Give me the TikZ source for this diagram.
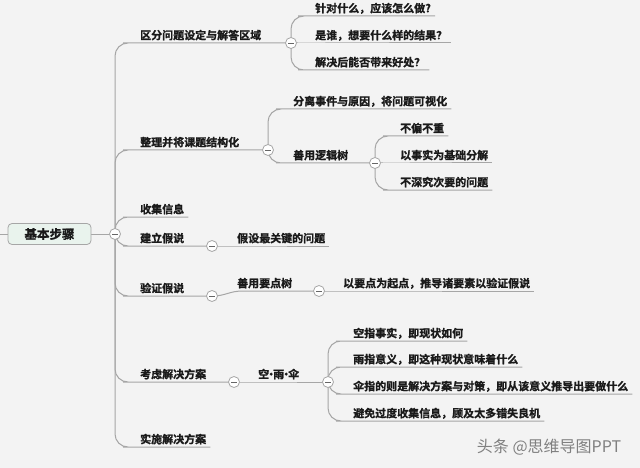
\documentclass[tikz,border=0pt]{standalone}
\usepackage{fontspec}
\newfontfamily\cjk{Noto Sans CJK SC}
\newfontfamily\cjkb{Noto Sans CJK SC Bold}[FakeBold=1.2]
\pgfdeclarelayer{bg}
\pgfdeclarelayer{lines}
\pgfsetlayers{bg,lines,main}
\definecolor{linec}{HTML}{A6A6A6}
\definecolor{txtc}{HTML}{1A1A1A}
\definecolor{bgc}{HTML}{F3F3F3}
\definecolor{rootfill}{HTML}{E9F3ED}
\tikzset{
  t/.style={font=\cjkb\fontsize{11}{13}\selectfont, text=txtc, anchor=south west,
    inner xsep=4pt, inner ysep=1.5pt, text height=9pt, text depth=2pt},
  col/.style={circle, draw=linec, fill=white, minimum size=11pt, inner sep=0pt, line width=0.8pt,
    path picture={\draw[black!60, line width=0.8pt]
      ([xshift=-2.6pt]path picture bounding box.center) -- ([xshift=2.6pt]path picture bounding box.center);}},
  ln/.style={draw=linec, line width=1pt, rounded corners=13pt},
  ul/.style={draw=linec, line width=1pt},
}
\begin{document}
\begin{tikzpicture}[x=1pt,y=-1pt]
\begin{pgfonlayer}{bg}
\fill[bgc] (0,0) rectangle (640,468);
\end{pgfonlayer}
\useasboundingbox (0,0) rectangle (640,468);

% root
\coordinate (lft) at (0,234);
\node[draw=linec, fill=rootfill, rounded corners=4pt, line width=0.8pt, minimum width=83pt, minimum height=21pt,
  font=\cjkb\fontsize{12.5}{14}\selectfont, text=txtc] (root) at (49.5,234) {基本步骤};
\node[col] (rc) at (115,234) {};

% level 1
\node[t] (b1) at (136,43) {区分问题设定与解答区域};
\node[col] (c1) at (291,43) {};
\node[t] (b2) at (136,150) {整理并将课题结构化};
\node[col] (c2) at (268,150) {};
\node[t] (b3) at (136,217) {收集信息};
\node[t] (b4) at (136,246) {建立假说};
\node[col] (c4) at (212,246) {};
\node[t] (b5) at (136,296) {验证假说};
\node[col] (c5) at (212,296) {};
\node[t] (b6) at (136,382) {考虑解决方案};
\node[col] (c7) at (234,382) {};
\node[t] (b7) at (136,447) {实施解决方案};

% branch 1 children
\node[t] (b1a) at (311,16) {针对什么，应该怎么做?};
\node[t] (b1b) at (311,43) {是谁，想要什么样的结果？};
\node[t] (b1c) at (311,70) {解决后能否带来好处？};

% branch 2 children
\node[t] (b2a) at (289,109) {分离事件与原因，将问题可视化};
\node[t] (b2b) at (289,163) {善用逻辑树};
\node[col] (c3) at (375,163) {};
\node[t] (b2b1) at (396,136) {不偏不重};
\node[t] (b2b2) at (396,163) {以事实为基础分解};
\node[t] (b2b3) at (396,190) {不深究次要的问题};

% branch 4 child
\node[t] (b4a) at (233,246) {假设最关键的问题};

% branch 5 children
\node[t] (b5a) at (233,291) {善用要点树};
\node[col] (c6) at (319,291) {};
\node[t] (b5b) at (339,291) {以要点为起点，推导诸要素以验证假说};

% branch 6 children
\node[t] (b6a) at (254,382) {空\kern-3.5pt·\kern-3.5pt雨\kern-3.5pt·\kern-3.5pt伞};
\node[col] (c8) at (328,382) {};
\node[t] (b6a1) at (349,341) {空指事实，即现状如何};
\node[t] (b6a2) at (349,367) {雨指意义，即这种现状意味着什么};
\node[t] (b6a3) at (349,394) {伞指的则是解决方案与对策，即从该意义推导出要做什么};
\node[t] (b6a4) at (349,421) {避免过度收集信息，顾及太多错失良机};

% watermark
\node[font=\cjk\fontsize{16}{18}\selectfont, text=black!50, anchor=center] (wm) at (549,447) {头条 @思维导图PPT};

\begin{pgfonlayer}{lines}
\draw[ul] (lft) -- (root.west);
\draw[ul] (root.east) -- (rc.center);
% trunk
\draw[ln] (rc.center) |- (b1.south west) -- (c1.center);
\draw[ln] (rc.center) |- (b2.south west) -- (c2.center);
\draw[ln] (rc.center) |- (b3.south west) -- (b3.south east);
\draw[ln] (rc.center) |- (b4.south west) -- (c4.center);
\draw[ln] (rc.center) |- (b5.south west) -- (c5.center);
\draw[ln] (rc.center) |- (b6.south west) -- (c7.center);
\draw[ln] (rc.center) |- (b7.south west) -- (b7.south east);
% branch 1
\draw[ln] (c1.center) |- (b1a.south west) -- (b1a.south east);
\draw[ln] (c1.center) -- (b1b.south west) -- (b1b.south east);
\draw[ln] (c1.center) |- (b1c.south west) -- (b1c.south east);
% branch 2
\draw[ln] (c2.center) |- (b2a.south west) -- (b2a.south east);
\draw[ln] (c2.center) |- (b2b.south west) -- (c3.center);
\draw[ln] (c3.center) |- (b2b1.south west) -- (b2b1.south east);
\draw[ln] (c3.center) -- (b2b2.south west) -- (b2b2.south east);
\draw[ln] (c3.center) |- (b2b3.south west) -- (b2b3.south east);
% branch 4
\draw[ln] (c4.center) -- (b4a.south west) -- (b4a.south east);
% branch 5
\draw[ul] (c5.center) .. controls +(14,0) and +(-14,0) .. ([xshift=10pt]b5a.south west) -- (c6.center);
\draw[ln] (c6.center) -- (b5b.south west) -- (b5b.south east);
% branch 6
\draw[ln] (c7.center) -- (b6a.south west) -- (c8.center);
\draw[ln] (c8.center) |- (b6a1.south west) -- (b6a1.south east);
\draw[ln] (c8.center) |- (b6a2.south west) -- (b6a2.south east);
\draw[ln] (c8.center) |- (b6a3.south west) -- (b6a3.south east);
\draw[ln] (c8.center) |- (b6a4.south west) -- (b6a4.south east);
\end{pgfonlayer}
\end{tikzpicture}
\end{document}
